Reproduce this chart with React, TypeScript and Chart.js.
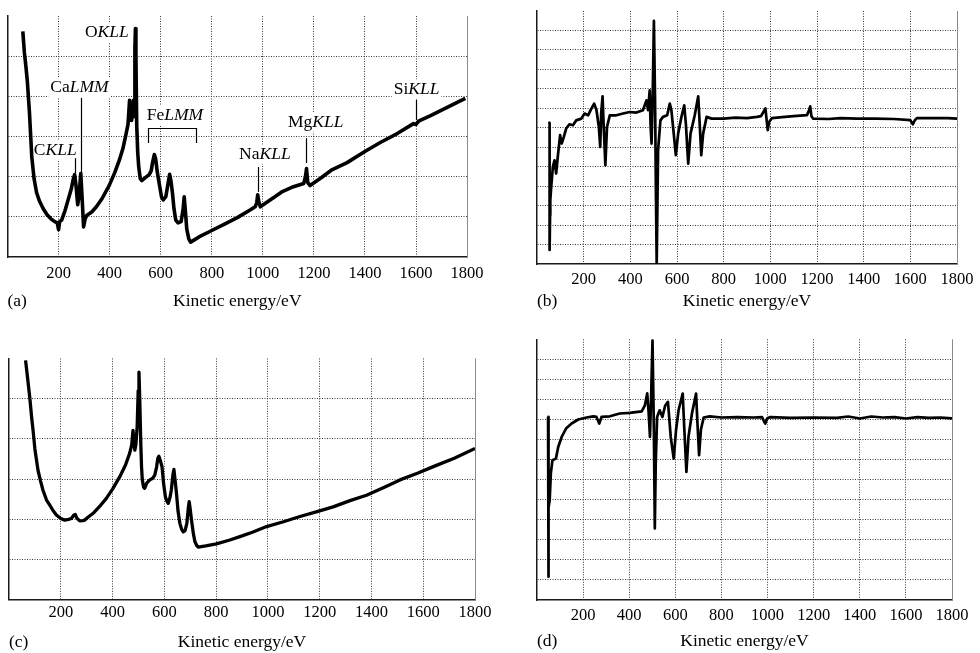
import React, { useEffect, useRef } from "react";
import { Chart, registerables } from "chart.js";

Chart.register(...registerables);

const FONT = "'Liberation Serif', 'Times New Roman', serif";
const AXIS_TITLE = "Kinetic energy/eV";
const X_TICK_STEP = 200;
const X_MIN = 0;
const X_MAX = 1800;

// (a) AES survey spectrum, N(E)
const energyA = [
  60, 66, 72, 78, 86, 95, 104, 114, 126, 140,
  155, 170, 185, 195, 200, 204, 212, 225, 237, 250,
  258, 263, 268, 275, 280, 287, 292, 298, 304, 311,
  330, 348, 370, 399, 420, 438, 452, 464, 472, 478,
  482, 486, 490, 493, 496, 499, 501, 503, 506, 510,
  514, 520, 526, 535, 545, 555, 563, 568, 575, 580,
  587, 595, 603, 610, 620, 628, 635, 640, 646, 652,
  659, 668, 680, 688, 692, 696, 702, 710, 717, 730,
  750, 800, 850, 900, 950, 970, 976, 980, 984, 990,
  1020, 1074, 1120, 1160, 1167, 1171, 1176, 1185, 1230, 1268,
  1330, 1398, 1460, 1528, 1590, 1599, 1610, 1657, 1720, 1793,
];
const signalA = [
  5.62, 5.1, 4.75, 4.35, 3.6, 2.5, 1.95, 1.6, 1.38, 1.2,
  1.05, 0.95, 0.88, 0.85, 0.68, 0.88, 0.92, 1.15, 1.41, 1.7,
  1.95, 2.05, 1.8, 1.3, 1.5, 2.08, 1.5, 0.75, 0.95, 1.04,
  1.12, 1.25, 1.45, 1.79, 2.1, 2.41, 2.7, 3.05, 3.3, 3.9,
  3.6, 3.4, 3.6, 3.9, 3.5, 5.2, 5.69, 5.0, 3.3, 2.6,
  2.24, 1.95, 1.9, 1.95, 2.0, 2.05, 2.15, 2.35, 2.55, 2.45,
  2.1, 1.8, 1.5, 1.42, 1.5, 1.8, 2.06, 1.9, 1.6, 1.2,
  0.92, 0.85, 0.88, 1.2, 1.5, 1.2, 0.7, 0.45, 0.37, 0.42,
  0.5, 0.66, 0.82, 0.98, 1.17, 1.25, 1.35, 1.55, 1.38, 1.25,
  1.38, 1.62, 1.75, 1.83, 2.0, 2.2, 1.85, 1.78, 1.98, 2.16,
  2.35, 2.62, 2.85, 3.08, 3.32, 3.3, 3.38, 3.52, 3.72, 3.95,
];

// (b) derivative spectrum of (a)
const energyB = [
  48, 54, 54, 56, 57, 61, 68, 75, 82, 89,
  99, 106, 115, 125, 139, 154, 168, 190, 204, 219,
  233, 245, 255, 265, 271, 275, 281, 286, 293, 300,
  312, 340, 369, 397, 426, 454, 469, 476, 483, 487,
  491, 496, 501, 506, 510, 513, 519, 529, 540, 558,
  569, 576, 586, 595, 605, 619, 631, 638, 648, 658,
  676, 691, 698, 704, 712, 727, 748, 800, 850, 900,
  943, 960, 979, 985, 989, 995, 1007, 1050, 1100, 1157,
  1166, 1171, 1176, 1183, 1250, 1300, 1371, 1450, 1530, 1600,
  1611, 1620, 1629, 1700, 1760, 1800,
];
const signalB = [
  7.25, 7.25, 0.72, 2.5, 3.28, 3.97, 4.99, 5.33, 4.65, 5.5,
  6.62, 6.19, 6.53, 6.96, 7.18, 7.13, 7.38, 7.47, 7.73, 7.64,
  7.98, 8.24, 7.9, 7.04, 6.02, 7.73, 8.62, 7.04, 5.08, 7.04,
  7.64, 7.64, 7.73, 7.81, 7.78, 7.9, 8.41, 7.9, 8.92, 7.04,
  6.19, 8.75, 12.5, 8.41, 3.28, 0.05, 5.85, 7.38, 7.56, 7.64,
  8.24, 7.9, 6.7, 5.59, 6.7, 7.56, 8.15, 7.21, 5.16, 6.7,
  7.64, 8.62, 7.04, 5.59, 6.7, 7.56, 7.47, 7.47, 7.52, 7.5,
  7.56, 7.6, 7.99, 7.3, 6.88, 7.3, 7.5, 7.55, 7.6, 7.65,
  7.9, 8.1, 7.6, 7.47, 7.45, 7.5, 7.47, 7.47, 7.45, 7.39,
  7.18, 7.4, 7.5, 7.5, 7.5, 7.47,
];

// (c) second survey spectrum, N(E)
const energyC = [
  64, 72, 80, 88, 93, 100, 112, 122, 131, 145,
  157, 170, 183, 200, 215, 230, 241, 250, 256, 262,
  273, 285, 292, 305, 325, 350, 376, 400, 428, 450,
  466, 474, 479, 483, 486, 490, 495, 499, 502, 505,
  509, 512, 515, 520, 524, 532, 544, 555, 563, 570,
  575, 579, 585, 591, 597, 604, 610, 615, 622, 627,
  633, 637, 642, 647, 653, 660, 667, 673, 680, 687,
  693, 696, 700, 705, 712, 718, 725, 731, 760, 801,
  850, 892, 940, 995, 1060, 1124, 1190, 1252, 1320, 1381,
  1450, 1510, 1580, 1639, 1720, 1800,
];
const signalC = [
  5.95, 5.5, 5.04, 4.5, 4.21, 3.75, 3.22, 2.95, 2.73, 2.48,
  2.36, 2.22, 2.11, 2.02, 1.98, 2.0, 2.02, 2.1, 2.12, 2.03,
  1.96, 1.97, 1.98, 2.05, 2.15, 2.32, 2.52, 2.75, 3.06, 3.35,
  3.64, 3.85, 4.21, 3.9, 3.72, 3.85, 4.3, 5.2, 5.66, 5.0,
  3.9, 3.3, 2.98, 2.8, 2.77, 2.9, 2.98, 3.02, 3.1, 3.3,
  3.52, 3.57, 3.45, 3.31, 2.9, 2.56, 2.45, 2.4, 2.55, 2.73,
  3.1, 3.24, 2.95, 2.64, 2.2, 1.9, 1.75, 1.69, 1.72, 1.9,
  2.3, 2.44, 2.25, 1.98, 1.65, 1.45, 1.35, 1.31, 1.34, 1.39,
  1.48, 1.57, 1.68, 1.82, 1.94, 2.07, 2.19, 2.31, 2.47, 2.6,
  2.8, 2.98, 3.15, 3.31, 3.52, 3.76,
];

// (d) derivative spectrum of (c)
const energyD = [
  48, 49, 48, 51, 50, 52, 55, 60, 67, 82,
  92, 107, 126, 150, 179, 215, 244, 258, 270, 280,
  316, 359, 403, 454, 468, 478, 484, 490, 495, 501,
  507, 511, 515, 521, 532, 544, 556, 568, 580, 593,
  603, 614, 632, 639, 648, 657, 672, 690, 696, 703,
  711, 723, 749, 800, 870, 940, 976, 983, 990, 998,
  1012, 1100, 1200, 1300, 1350, 1400, 1450, 1500, 1550, 1600,
  1650, 1700, 1750, 1800,
];
const signalD = [
  9.13, 4.8, 1.16, 5.2, 1.5, 4.6, 4.98, 6.31, 6.97, 7.05,
  7.63, 8.13, 8.55, 8.8, 9.0, 9.1, 9.16, 9.13, 8.8, 9.13,
  9.16, 9.3, 9.33, 9.41, 9.71, 10.3, 9.4, 8.13, 10.13, 12.95,
  8.46, 3.57, 6.8, 9.13, 9.46, 9.13, 9.7, 9.88, 8.13, 7.05,
  8.46, 9.46, 10.29, 8.5, 6.39, 8.13, 9.3, 10.29, 8.8, 7.22,
  8.5, 9.1, 9.16, 9.1, 9.12, 9.1, 9.12, 8.95, 8.8, 9.05,
  9.12, 9.08, 9.1, 9.08, 9.15, 9.05, 9.15, 9.1, 9.12, 9.05,
  9.12, 9.08, 9.1, 9.06,
];

// Peak annotations of panel (a)
const peakElement = ["C", "Ca", "O", "Fe", "Na", "Mg", "Si"];
const peakTransition = ["KLL", "LMM", "KLL", "LMM", "KLL", "KLL", "KLL"];
const peakLabelEnergy = [187, 282, 389, 656, 1008, 1207, 1602];
const peakLabelLevel = [2.66, 4.21, 5.58, 3.53, 2.56, 3.36, 4.18];
const peakMarkerEnergy: (number | null)[] = [263, 289, null, null, 982, 1171, 1599];
const peakMarkerTop = [2.46, 3.96, 0, 0, 2.24, 2.96, 3.91];
const peakMarkerBottom = [2.09, 2.09, 0, 0, 1.62, 2.34, 3.41];
const feBracketEnergy = [551, 737];
const feBracketLevels = [3.22, 2.84];

type Pad = { left: number; right: number; top: number; bottom: number };
type PanelCfg = {
  letter: string;
  left: number;
  top: number;
  width: number;
  height: number;
  pad: Pad;
  scaleH: number;
  tickPad: number;
  yMax: number;
  xs: number[];
  ys: number[];
  lineW: number;
  annotate: boolean;
};

const TICK_SIZE = 16.5;
const TITLE_SIZE = 17.5;
const LABEL_SIZE = 17.5;

function drawMixed(ctx: CanvasRenderingContext2D, base: string, ital: string, cx: number, cy: number) {
  const up = `${LABEL_SIZE}px ${FONT}`;
  const it = `italic ${LABEL_SIZE}px ${FONT}`;
  ctx.font = up;
  const w1 = ctx.measureText(base).width;
  ctx.font = it;
  const w2 = ctx.measureText(ital).width;
  const w = w1 + w2;
  const x0 = cx - w / 2;
  ctx.fillStyle = "#fff";
  ctx.fillRect(x0 - 2, cy - LABEL_SIZE * 0.55, w + 4, LABEL_SIZE * 1.1);
  ctx.fillStyle = "#000";
  ctx.textBaseline = "middle";
  ctx.textAlign = "left";
  ctx.font = up;
  ctx.fillText(base, x0, cy);
  ctx.font = it;
  ctx.fillText(ital, x0 + w1, cy);
}

const peakPlugin = {
  id: "peakLabels",
  beforeDatasetsDraw(chart: any) {
    const { ctx, scales } = chart;
    const x = scales.x;
    const y = scales.y;
    ctx.save();
    for (let i = 0; i < peakElement.length; i++) {
      drawMixed(ctx, peakElement[i], peakTransition[i], x.getPixelForValue(peakLabelEnergy[i]), y.getPixelForValue(peakLabelLevel[i]));
    }
    ctx.strokeStyle = "#000";
    ctx.lineWidth = 1.2;
    ctx.setLineDash([]);
    for (let i = 0; i < peakMarkerEnergy.length; i++) {
      const e = peakMarkerEnergy[i];
      if (e === null) continue;
      const px = Math.round(x.getPixelForValue(e)) + 0.5;
      ctx.beginPath();
      ctx.moveTo(px, y.getPixelForValue(peakMarkerTop[i]));
      ctx.lineTo(px, y.getPixelForValue(peakMarkerBottom[i]));
      ctx.stroke();
    }
    const bx1 = Math.round(x.getPixelForValue(feBracketEnergy[0])) + 0.5;
    const bx2 = Math.round(x.getPixelForValue(feBracketEnergy[1])) + 0.5;
    const by1 = Math.round(y.getPixelForValue(feBracketLevels[0])) + 0.5;
    const by2 = y.getPixelForValue(feBracketLevels[1]);
    ctx.beginPath();
    ctx.moveTo(bx1, by2);
    ctx.lineTo(bx1, by1);
    ctx.lineTo(bx2, by1);
    ctx.lineTo(bx2, by2);
    ctx.stroke();
    ctx.restore();
  },
};

function makeFramePlugin(letter: string) {
  return {
    id: "frameAndLetter",
    beforeDatasetsDraw(chart: any) {
      const { ctx, chartArea } = chart;
      ctx.save();
      ctx.strokeStyle = "#8a8a8a";
      ctx.lineWidth = 1;
      ctx.setLineDash([]);
      const rx = Math.round(chartArea.right) + 0.5;
      ctx.beginPath();
      ctx.moveTo(rx, chartArea.top);
      ctx.lineTo(rx, chartArea.bottom);
      ctx.stroke();
      const xs = chart.scales.x;
      const ty = xs.bottom - (TITLE_SIZE * 1.2) / 2;
      ctx.fillStyle = "#000";
      ctx.font = `${TITLE_SIZE}px ${FONT}`;
      ctx.textAlign = "left";
      ctx.textBaseline = "middle";
      ctx.fillText(`(${letter})`, chartArea.left, ty);
      ctx.restore();
    },
  };
}

const panels: PanelCfg[] = [
  { letter: "a", left: 0, top: 0, width: 490, height: 320, pad: { left: 7.5, right: 20, top: 16, bottom: 7.8 }, scaleH: 55.2, tickPad: 6.4, yMax: 6, xs: energyA, ys: signalA, lineW: 3.6, annotate: true },
  { letter: "b", left: 490, top: 0, width: 490, height: 320, pad: { left: 47, right: 23, top: 11, bottom: 7.8 }, scaleH: 48.2, tickPad: 5.4, yMax: 13, xs: energyB, ys: signalB, lineW: 2.7, annotate: false },
  { letter: "c", left: 0, top: 320, width: 510, height: 333, pad: { left: 9, right: 35, top: 38.4, bottom: 0 }, scaleH: 53.2, tickPad: 3.4, yMax: 6, xs: energyC, ys: signalC, lineW: 3.3, annotate: false },
  { letter: "d", left: 490, top: 320, width: 490, height: 333, pad: { left: 47, right: 28, top: 19.3, bottom: 0.8 }, scaleH: 52.2, tickPad: 5.4, yMax: 13, xs: energyD, ys: signalD, lineW: 2.7, annotate: false },
];

function Panel({ cfg }: { cfg: PanelCfg }) {
  const ref = useRef<HTMLCanvasElement | null>(null);
  useEffect(() => {
    if (!ref.current) return;
    const gridColor = (ctx: any, edgeMax: number) => {
      const v = ctx.tick ? ctx.tick.value : null;
      if (v === 0 || v === edgeMax) return "rgba(0,0,0,0)";
      return "#3a3a3a";
    };
    const plugins: any[] = [makeFramePlugin(cfg.letter)];
    if (cfg.annotate) plugins.push(peakPlugin);
    const chart = new Chart(ref.current, {
      type: "line",
      data: {
        datasets: [
          {
            data: cfg.xs.map((x, i) => ({ x, y: cfg.ys[i] })),
            borderColor: "#000",
            borderWidth: cfg.lineW,
            pointRadius: 0,
            tension: 0,
            fill: false,
            borderJoinStyle: "round",
          } as any,
        ],
      },
      options: {
        animation: false,
        responsive: false,
        maintainAspectRatio: false,
        devicePixelRatio: 1,
        layout: { padding: cfg.pad },
        plugins: { legend: { display: false }, tooltip: { enabled: false } },
        scales: {
          x: {
            type: "linear",
            min: X_MIN,
            max: X_MAX,
            afterFit: (scale: any) => {
              scale.height = cfg.scaleH;
            },
            ticks: {
              stepSize: X_TICK_STEP,
              padding: cfg.tickPad,
              color: "#000",
              maxRotation: 0,
              autoSkip: false,
              font: { family: FONT, size: TICK_SIZE, lineHeight: 1.2 },
              callback: (v: any) => (v === 0 ? "" : String(v)),
            },
            grid: {
              drawTicks: false,
              lineWidth: 1,
              color: (ctx: any) => gridColor(ctx, X_MAX),
            },
            border: { display: true, color: "#1a1a1a", width: 1.5, dash: [1, 1.5] },
            title: {
              display: true,
              text: AXIS_TITLE,
              color: "#000",
              padding: 0,
              font: { family: FONT, size: TITLE_SIZE, lineHeight: 1.2 },
            },
          },
          y: {
            type: "linear",
            min: 0,
            max: cfg.yMax,
            ticks: { display: false, stepSize: 1 },
            grid: {
              drawTicks: false,
              lineWidth: 1,
              color: (ctx: any) => gridColor(ctx, cfg.yMax),
            },
            border: { display: true, color: "#1a1a1a", width: 1.5, dash: [1, 1.5] },
          },
        },
      } as any,
      plugins,
    });
    return () => chart.destroy();
  }, [cfg]);
  return (
    <canvas
      ref={ref}
      width={cfg.width}
      height={cfg.height}
      style={{ position: "absolute", left: cfg.left, top: cfg.top, width: cfg.width, height: cfg.height }}
    />
  );
}

export default function App() {
  return (
    <div style={{ position: "absolute", left: 0, top: 0, width: 980, height: 653, background: "#fff", overflow: "hidden" }}>
      {panels.map((p) => (
        <Panel key={p.letter} cfg={p} />
      ))}
    </div>
  );
}
